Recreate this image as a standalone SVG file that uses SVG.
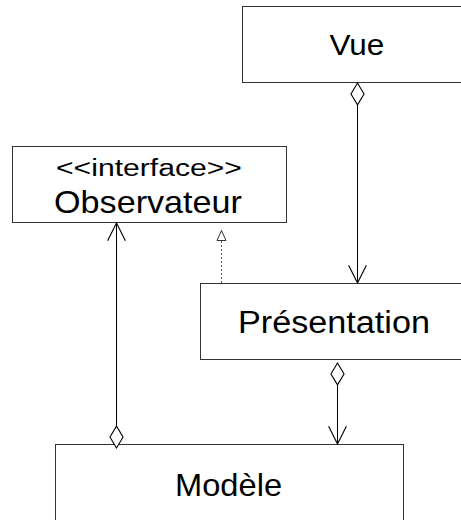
<svg xmlns="http://www.w3.org/2000/svg" width="461" height="520" viewBox="0 0 461 520">
  <style>
    .box { fill: #ffffff; stroke: #333333; stroke-width: 1; }
    .lbl { font-family: "Liberation Sans", Arial, sans-serif; fill: #000000; }
    .conn { fill: none; stroke: #000000; stroke-width: 1; }
    .dash { fill: none; stroke: #555555; stroke-width: 1; stroke-dasharray: 2 2; }
  </style>
  <defs>
    <marker id="diamond" markerUnits="userSpaceOnUse" markerWidth="24" markerHeight="16" viewBox="-1 -7 22 14" refX="0" refY="0" orient="auto" overflow="visible">
      <path d="M0,0 L10,-6 L20,0 L10,6 Z" fill="#ffffff" stroke="#000000" stroke-width="1"/>
    </marker>
    <marker id="openArrow" markerUnits="userSpaceOnUse" markerWidth="20" markerHeight="20" viewBox="-16 -9 18 18" refX="0" refY="0" orient="auto" overflow="visible">
      <path d="M-16,-8 L0,0 L-16,8" fill="none" stroke="#000000" stroke-width="1"/>
    </marker>
    <marker id="hollowTri" markerUnits="userSpaceOnUse" markerWidth="12" markerHeight="12" viewBox="-10 -6 12 12" refX="0" refY="0" orient="auto" overflow="visible">
      <path d="M-10,-4.5 L0,0 L-10,4.5 Z" fill="#ffffff" stroke="#333333" stroke-width="1"/>
    </marker>
  </defs>

  <g id="vue">
    <rect class="box" x="242.5" y="6.5" width="232" height="76"/>
    <text class="lbl" transform="translate(329.5,55) scale(1.05,1)" font-size="30">Vue</text>
  </g>

  <g id="observateur">
    <rect class="box" x="12.5" y="146.5" width="274" height="76"/>
    <text class="lbl" transform="translate(56,176) scale(1.31,1)" font-size="23">&lt;&lt;interface&gt;&gt;</text>
    <text class="lbl" transform="translate(54,212.5) scale(1.102,1)" font-size="31">Observateur</text>
  </g>

  <g id="presentation">
    <rect class="box" x="200.5" y="283.5" width="268" height="76"/>
    <text class="lbl" transform="translate(238,333) scale(1.103,1)" font-size="31">Présentation</text>
  </g>

  <g id="modele">
    <rect class="box" x="55.5" y="444.5" width="348" height="90"/>
    <text class="lbl" transform="translate(175,495.5) scale(1.053,1)" font-size="31">Modèle</text>
  </g>

  <g id="connectors">
    <path class="conn" d="M357.5,83 L357.5,283" marker-start="url(#diamond)" marker-end="url(#openArrow)"/>
    <path class="conn" d="M337.5,363 L337.5,444" marker-start="url(#diamond)" marker-end="url(#openArrow)"/>
    <path class="conn" d="M116.5,448 L116.5,223" marker-start="url(#diamond)" marker-end="url(#openArrow)"/>
    <path class="dash" d="M221.5,283 L221.5,230.5" marker-end="url(#hollowTri)"/>
  </g>
</svg>
